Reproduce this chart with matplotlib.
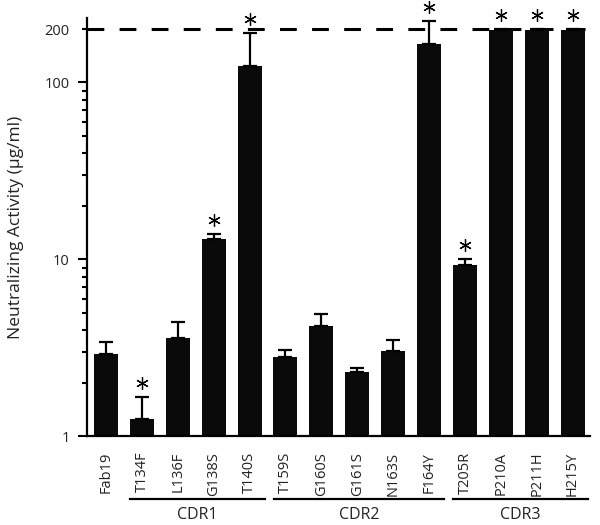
import matplotlib
matplotlib.use("Agg")
import matplotlib.pyplot as plt
import matplotlib.transforms as mtransforms
from matplotlib.ticker import FixedLocator, FuncFormatter
import numpy as np

plt.rcParams['font.family'] = ['Open Sans', 'DejaVu Sans']

# data
mutants = ["Fab19", "T134F", "L136F", "G138S", "T140S",
           "T159S", "G160S", "G161S", "N163S", "F164Y",
           "T205R", "P210A", "P211H", "H215Y"]
activity = [2.92, 1.26, 3.6, 13.1, 124, 2.81, 4.21, 2.31, 3.04, 165, 9.31, 198, 198, 197]
upper = [3.42, 1.67, 4.43, 13.9, 190, 3.08, 4.92, 2.44, 3.51, 222, 10.07, 201, 201, 201]
significant = [False, True, False, True, True, False, False, False, False, True,
               True, True, True, True]
groups = [("CDR1", 1, 4), ("CDR2", 5, 9), ("CDR3", 10, 13)]
cutoff = 200

fig = plt.figure(figsize=(6, 5.25), dpi=100)
ax = fig.add_axes([0.145, 0.1686, 0.838, 0.797])

x = np.arange(len(mutants))
act = np.array(activity)
up = np.array(upper)

ax.bar(x, act, width=0.67, color='#0a0a0a', zorder=2)
ax.errorbar(x, act, yerr=[np.zeros_like(act), up - act], fmt='none', ecolor='black',
            elinewidth=1.6, capsize=5, capthick=1.6, zorder=3)

# asterisks above the error caps
sig = np.array(significant)
ax.plot(x[sig], up[sig] * 1.2, linestyle='none', marker=(6, 2, 0), markersize=9,
        markeredgewidth=0.9, color='black', clip_on=False, zorder=4)

# cutoff line
ax.axhline(cutoff, color='black', lw=2.2, dashes=(5.5, 5), zorder=1)

ax.set_yscale('log')
ax.set_ylim(1, 231)
ax.set_xlim(-0.53, 13.48)

ax.yaxis.set_major_locator(FixedLocator([1, 10, 100]))
ax.yaxis.set_major_formatter(FuncFormatter(lambda v, p: "%d" % v))
minors = [2, 3, 4, 5, 6, 7, 8, 9, 20, 30, 40, 50, 60, 70, 80, 90, 200]
ax.yaxis.set_minor_locator(FixedLocator(minors))
ax.yaxis.set_minor_formatter(FuncFormatter(lambda v, p: "200" if abs(v - 200) < 1 else ""))
ax.tick_params(axis='y', which='major', length=6.5, width=1.5, pad=6, labelsize=10.5,
               labelcolor='#222222')
ax.tick_params(axis='y', which='minor', length=3.8, width=1.5, pad=9, labelsize=10.5,
               labelcolor='#222222')

ax.set_xticks(x)
ax.set_xticklabels(mutants, rotation=90, fontsize=10.5, color='#222222')
ax.tick_params(axis='x', length=0, pad=11)

for side in ['top', 'right']:
    ax.spines[side].set_visible(False)
for side in ['left', 'bottom']:
    ax.spines[side].set_linewidth(1.6)

ax.set_ylabel("Neutralizing Activity (µg/ml)", fontsize=12.5, color='#222222')
ax.yaxis.set_label_coords(-0.125, 0.5)

# group brackets under the tick labels
trans = mtransforms.blended_transform_factory(ax.transData, fig.transFigure)
for name, i0, i1 in groups:
    x0, x1 = i0 - 0.33, i1 + 0.42
    ax.plot([x0, x1], [0.0495, 0.0495], color='black', lw=1.6,
            transform=trans, clip_on=False)
    ax.text((x0 + x1) / 2, 0.019, name, transform=trans, ha='center', va='center',
            fontsize=11.5, color='#222222')

fig.savefig("out.png", dpi=100)
